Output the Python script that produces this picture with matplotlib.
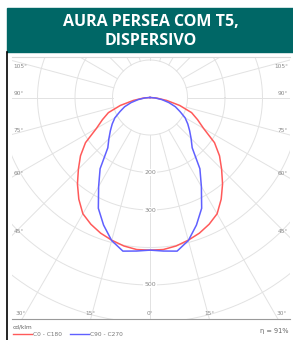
"""Polar light distribution diagram, AURA PERSEA COM T5 dispersivo."""

import numpy as np
import matplotlib
matplotlib.use('Agg')
import matplotlib.pyplot as plt
from matplotlib.patches import Rectangle

# --- data (cd/klm, angle from nadir, symmetric) ---
angles = [0, 5, 10, 15, 20, 25, 30, 35, 40, 45, 50, 55, 60, 65, 70, 75, 80, 85, 90]
c0_c180 = [407, 407, 402, 394, 385, 373, 358, 331, 301, 270, 242, 210, 165, 140, 118, 82, 45, 18, 0]
c90_c270 = [407, 411, 416, 395, 362, 326, 274, 232, 175, 155, 138, 123, 108, 88, 72, 52, 32, 14, 0]

ring_values = [100, 200, 300, 400, 500, 600, 700, 800]
ring_labels = [200, 300, 500]
spoke_angles = [15, 30, 45, 60, 75, 90, 105, 120, 135, 150, 165, 180]
side_labels = [45, 60, 75, 90, 105]
bottom_labels = [30, 15, 0]

title = 'AURA PERSEA COM T5,\nDISPERSIVO'
series_names = ['C0 - C180', 'C90 - C270']
unit_text = 'cd/klm'
eta_text = '\u03b7 = 91%'

W, H = 293, 340
TEAL = '#006766'
GRID = '#e2e2e2'
LBL = '#8a8a8a'


def to_xy(theta_deg, r):
    t = np.radians(theta_deg)
    return np.asarray(r) * np.sin(t), -np.asarray(r) * np.cos(t)


def full_curve(vals):
    a = np.array(angles, dtype=float)
    r = np.array(vals, dtype=float)
    # left half (C180 / C270) mirrored, then right half
    aa = np.concatenate([-a[::-1], a[1:]])
    rr = np.concatenate([r[::-1], r[1:]])
    return to_xy(aa, rr)


fig = plt.figure(figsize=(W / 100, H / 100), dpi=100)

# header band
fig.patches.append(Rectangle((7 / W, 1 - 52 / H), 1 - 7 / W, 44 / H,
                             transform=fig.transFigure, color=TEAL, zorder=0))
fig.text(151 / W, 1 - 31.5 / H, title, ha='center', va='center', color='white',
         fontsize=11.5, fontweight='bold', family='Open Sans', linespacing=1.2)
fig.add_artist(plt.Line2D([7 / W, 7 / W], [0, 1 - 52 / H], transform=fig.transFigure,
                          color='black', lw=1.2))

# polar area
x0, x1, y0, y1 = 12, 290, 57, 319
ax = fig.add_axes([x0 / W, 1 - y1 / H, (x1 - x0) / W, (y1 - y0) / H])
scale = 0.375  # px per cd/klm
cx, cy = 150, 97.5
xmin, xmax = (x0 - cx) / scale, (x1 - cx) / scale
ymin, ymax = -(y1 - cy) / scale, (cy - y0) / scale
ax.set_xlim(xmin, xmax)
ax.set_ylim(ymin, ymax)
ax.set_aspect('equal')
ax.set_xticks([])
ax.set_yticks([])
for s in ['left', 'right']:
    ax.spines[s].set_visible(False)
ax.spines['top'].set_color('#d8d8d8')
ax.spines['top'].set_linewidth(0.8)
ax.spines['bottom'].set_color('#9a9a9a')
ax.spines['bottom'].set_linewidth(0.8)

tt = np.linspace(0, 2 * np.pi, 361)
for rv in ring_values:
    ax.plot(rv * np.cos(tt), rv * np.sin(tt), color=GRID, lw=0.7, zorder=1)
for sa in [0] + spoke_angles:
    for sgn in ((1, -1) if sa else (1,)):
        xs, ys = to_xy(sgn * sa, [ring_values[0], 1500])
        ax.plot(xs, ys, color=GRID, lw=0.7, zorder=1)

for rv in ring_labels:
    ax.text(0, -rv, str(rv), ha='center', va='center', fontsize=4.5, color=LBL, zorder=3,
            bbox=dict(boxstyle='square,pad=0.15', fc='white', ec='none'))

# angle labels on the side edges
for a in side_labels:
    yl = -abs(xmin) / np.tan(np.radians(a))
    va = 'top' if yl > ymax - 40 else 'bottom'
    off = -8 if va == 'top' else 4
    ax.text(xmin + 4, yl + off, f'{a}\u00b0', ha='left', va=va, fontsize=4.2, color=LBL)
    ax.text(xmax - 4, yl + off, f'{a}\u00b0', ha='right', va=va, fontsize=4.2, color=LBL)

for a in bottom_labels:
    xl = abs(ymin) * np.tan(np.radians(a))
    for sgn in ((1, -1) if a else (1,)):
        xp = sgn * xl
        ha = 'center'
        if abs(xp) > xmax - 40:
            ha = 'left' if xp < 0 else 'right'
            xp = (xmin + 8) if xp < 0 else (xmax - 8)
        ax.text(xp, ymin + 8, f'{a}\u00b0', ha=ha, va='bottom', fontsize=4.2, color=LBL)

# curves
xr, yr = full_curve(c0_c180)
xb, yb = full_curve(c90_c270)
ax.plot(xr, yr, color='#ff5a5a', lw=1.1, zorder=4, solid_joinstyle='round')
ax.plot(xb, yb, color='#6060ff', lw=1.1, zorder=4, solid_joinstyle='round')

# footer: unit, legend, efficiency
fig.text(13 / W, 1 - 327 / H, unit_text, ha='left', va='center', fontsize=4.2, color='#666666')
leg_y = 1 - 334 / H
fig.add_artist(plt.Line2D([13 / W, 32 / W], [leg_y, leg_y], transform=fig.transFigure,
                          color='#ff5a5a', lw=1.0))
fig.text(33 / W, leg_y, series_names[0], ha='left', va='center', fontsize=4.2, color='#777777')
fig.add_artist(plt.Line2D([70 / W, 89 / W], [leg_y, leg_y], transform=fig.transFigure,
                          color='#6060ff', lw=1.0))
fig.text(90 / W, leg_y, series_names[1], ha='left', va='center', fontsize=4.2, color='#777777')
fig.text(289 / W, 1 - 331 / H, eta_text, ha='right', va='center', fontsize=4.8, color='#666666')

fig.savefig('out.png', dpi=100)
plt.close(fig)
